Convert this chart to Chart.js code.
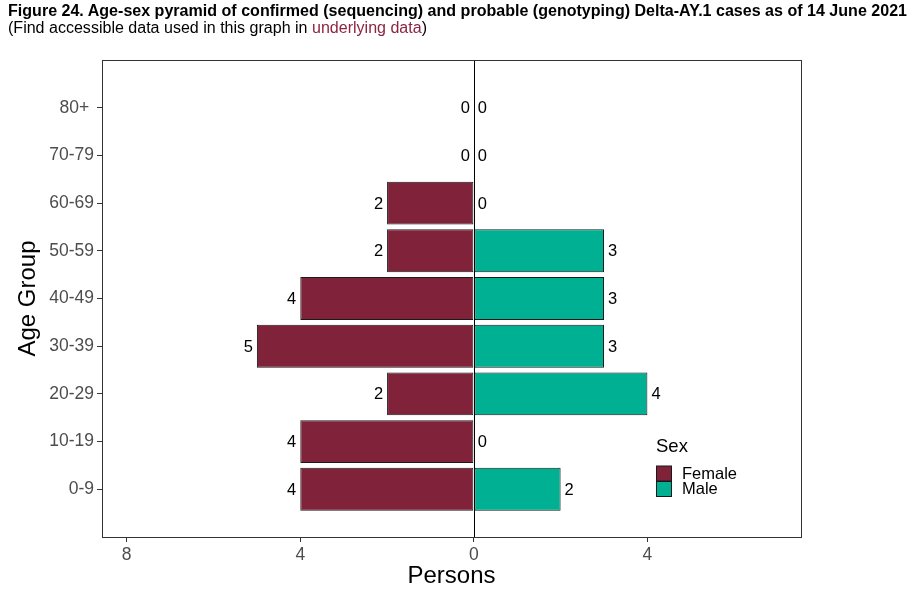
<!DOCTYPE html>
<html>
<head>
<meta charset="utf-8">
<script src="https://cdn.jsdelivr.net/npm/chart.js@4/dist/chart.umd.min.js"></script>
<style>
    body { margin: 0; background: #fff; font-family: "Liberation Sans", Arial, sans-serif; }
    #wrap { position: relative; width: 913px; height: 597px; }
    #chart { position: absolute; left: 0; top: 0; }
    .head { position: absolute; left: 8px; white-space: nowrap; transform-origin: 0 0; color: #000; }
    #title { top: 2px; font-weight: bold; font-size: 16px; }
    #subtitle { top: 19px; font-size: 16px; }
    #subtitle span { color: #8b2540; }
</style>
</head>
<body>
<div id="wrap">
    <canvas id="chart" width="913" height="597"></canvas>
    <div class="head" id="title">Figure 24. Age-sex pyramid of confirmed (sequencing) and probable (genotyping) Delta-AY.1 cases as of 14 June 2021</div>
    <div class="head" id="subtitle">(Find accessible data used in this graph in <span>underlying data</span>)</div>
</div>
<script>
const ages = ['0-9', '10-19', '20-29', '30-39', '40-49', '50-59', '60-69', '70-79', '80+'];
const female = [4, 4, 2, 5, 4, 2, 2, 0, 0];
const male = [2, 0, 4, 3, 3, 3, 0, 0, 0];
const xTicks = [-8, -4, 0, 4];

const FEMALE_COLOR = '#80233a';
const MALE_COLOR = '#00b092';
const FONT = '"Liberation Sans", Arial, sans-serif';

// squeeze header lines to the width they have in the figure
function fitWidth(id, target) {
    const el = document.getElementById(id);
    const w = el.getBoundingClientRect().width;
    if (w > 0) el.style.transform = 'scaleX(' + (target / w) + ')';
}
fitWidth('title', 899);
fitWidth('subtitle', 419);

const pyramidExtras = {
    id: 'pyramidExtras',
    afterDatasetsDraw(chart) {
        const { ctx, chartArea: area, scales } = chart;
        const x0 = Math.round(scales.x.getPixelForValue(0)) + 0.5;
        ctx.save();
        // zero line
        ctx.strokeStyle = '#000';
        ctx.lineWidth = 1;
        ctx.beginPath();
        ctx.moveTo(x0, area.top);
        ctx.lineTo(x0, area.bottom);
        ctx.stroke();

        // value labels
        ctx.font = '16.5px ' + FONT;
        ctx.fillStyle = '#000';
        ctx.textBaseline = 'middle';
        chart.data.datasets.forEach((ds, di) => {
            const meta = chart.getDatasetMeta(di);
            meta.data.forEach((bar, i) => {
                const v = ds.data[i].x;
                const px = scales.x.getPixelForValue(v);
                if (di === 0) {
                    ctx.textAlign = 'right';
                    ctx.fillText(String(Math.abs(v)), px - 4, bar.y + 1);
                } else {
                    ctx.textAlign = 'left';
                    ctx.fillText(String(v), px + 4, bar.y + 1);
                }
            });
        });

        // panel border
        ctx.strokeStyle = '#333';
        ctx.strokeRect(Math.round(area.left) + 0.5, Math.round(area.top) + 0.5,
            Math.round(area.right - area.left), Math.round(area.bottom - area.top));

        // legend
        ctx.textAlign = 'left';
        ctx.font = '18.5px ' + FONT;
        ctx.fillText('Sex', 656, 447);
        const keys = [['Female', FEMALE_COLOR], ['Male', MALE_COLOR]];
        ctx.font = '16.5px ' + FONT;
        keys.forEach(([name, color], k) => {
            const y = 466 + k * 15.5;
            ctx.fillStyle = color;
            ctx.fillRect(656.5, y, 15, 15);
            ctx.strokeStyle = '#1a1a1a';
            ctx.strokeRect(656.5, y, 15, 15);
            ctx.fillStyle = '#000';
            ctx.fillText(name, 682, y + 8);
        });
        ctx.restore();
    },
};

new Chart(document.getElementById('chart'), {
    type: 'bar',
    data: {
        datasets: [
            {
                label: 'Female',
                data: female.map((v, i) => ({ x: -v, y: i })),
                backgroundColor: FEMALE_COLOR,
            },
            {
                label: 'Male',
                data: male.map((v, i) => ({ x: v, y: i })),
                backgroundColor: MALE_COLOR,
            },
        ],
    },
    options: {
        indexAxis: 'y',
        responsive: false,
        animation: false,
        layout: { padding: { top: 60, right: 112, bottom: 0, left: 0 } },
        datasets: {
            bar: {
                grouped: false,
                categoryPercentage: 0.9,
                barPercentage: 1,
                borderColor: '#1a1a1a',
                borderWidth: 1,
                borderSkipped: false,
            },
        },
        plugins: {
            legend: { display: false },
            tooltip: { enabled: false },
        },
        scales: {
            x: {
                type: 'linear',
                min: -8.57,
                max: 7.54,
                afterBuildTicks: (axis) => { axis.ticks = xTicks.map((v) => ({ value: v })); },
                afterFit: (axis) => { axis.height = 60; },
                ticks: {
                    color: '#4d4d4d',
                    font: { family: FONT, size: 17.5 },
                    padding: 3,
                    callback: (v) => String(Math.abs(v)),
                },
                grid: { drawOnChartArea: false, tickLength: 5, tickColor: '#333' },
                border: { display: false },
                title: {
                    display: true,
                    text: 'Persons',
                    color: '#000',
                    font: { family: FONT, size: 24 },
                    padding: { top: 0, bottom: 6 },
                },
            },
            y: {
                type: 'linear',
                offset: false,
                min: -1,
                max: 9,
                afterBuildTicks: (axis) => { axis.ticks = ages.map((_, i) => ({ value: i })); },
                afterFit: (axis) => { axis.width = 102; },
                ticks: {
                    color: '#4d4d4d',
                    font: { family: FONT, size: 17.5 },
                    padding: 3,
                    // the source figure leaves a space after "80+"
                    callback: (v) => (ages[v] === '80+' ? '80+ ' : ages[v] ?? ''),
                },
                grid: { offset: false, drawOnChartArea: false, tickLength: 5, tickColor: '#333' },
                border: { display: false },
                title: {
                    display: true,
                    text: 'Age Group',
                    color: '#000',
                    font: { family: FONT, size: 24 },
                    padding: { top: 14, bottom: 0 },
                },
            },
        },
    },
    plugins: [pyramidExtras],
});
</script>
</body>
</html>
